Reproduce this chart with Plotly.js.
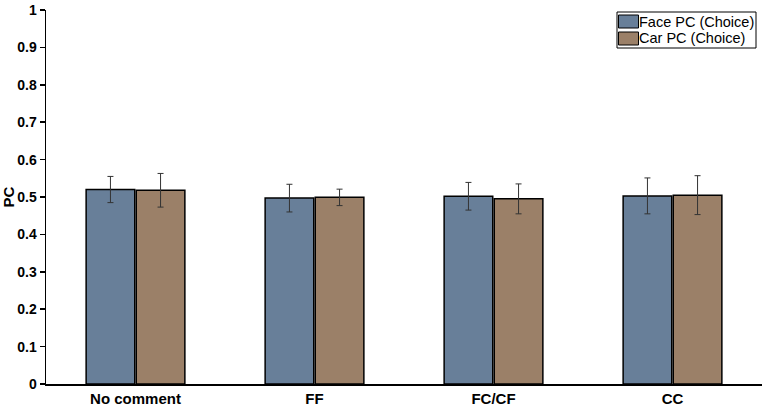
<!DOCTYPE html>
<html><head><meta charset="utf-8">
<script src="https://cdn.plot.ly/plotly-3.0.1.min.js"></script>
<style>html,body{margin:0;padding:0;background:#fff}#chart{width:765px;height:407px}</style>
</head><body><div id="chart"></div>
<script>
var categories = ['No comment', 'FF', 'FC/CF', 'CC'];
var faceValues = [0.520, 0.497, 0.502, 0.503];
var faceErrors = [0.035, 0.037, 0.037, 0.048];
var carValues = [0.518, 0.499, 0.495, 0.505];
var carErrors = [0.045, 0.022, 0.040, 0.052];
var seriesNames = ['Face PC (Choice)', 'Car PC (Choice)'];
var seriesColors = ['#687f99', '#9b8068'];
var yTicks = [0, 0.1, 0.2, 0.3, 0.4, 0.5, 0.6, 0.7, 0.8, 0.9, 1];
var yTickText = ['0', '0.1', '0.2', '0.3', '0.4', '0.5', '0.6', '0.7', '0.8', '0.9', '1'];

var W = 765, H = 407;
var M = {l: 46, r: 3, t: 10, b: 23};
var pw = W - M.l - M.r, ph = H - M.t - M.b;
function px(x) { return (x - M.l) / pw; }
function py(y) { return (H - M.b - y) / ph; }

var errStyle = {type: 'data', visible: true, color: '#333333', thickness: 1, width: 3};
var traces = [
  {type: 'bar', name: seriesNames[0], x: categories, y: faceValues, showlegend: false,
   error_y: Object.assign({array: faceErrors}, errStyle),
   marker: {color: seriesColors[0], line: {color: '#000', width: 1.5}}},
  {type: 'bar', name: seriesNames[1], x: categories, y: carValues, showlegend: false,
   error_y: Object.assign({array: carErrors}, errStyle),
   marker: {color: seriesColors[1], line: {color: '#000', width: 1.5}}}
];
var FAM = 'Liberation Sans, Arial, sans-serif';

// manual legend (box + swatches + texts)
var shapes = [
  {type: 'rect', xref: 'paper', yref: 'paper', x0: px(617), x1: px(756), y0: py(48), y1: py(12),
   line: {color: '#000', width: 1}, fillcolor: '#fff', layer: 'above'}
];
var annotations = [];
seriesNames.forEach(function (nm, i) {
  var yTop = 15 + i * 17, yBot = 28 + i * 17;
  shapes.push({type: 'rect', xref: 'paper', yref: 'paper', x0: px(618.5), x1: px(638.5),
    y0: py(yBot), y1: py(yTop), line: {color: '#000', width: 1}, fillcolor: seriesColors[i], layer: 'above'});
  annotations.push({xref: 'paper', yref: 'paper', x: px(638), y: py((yTop + yBot) / 2),
    xanchor: 'left', yanchor: 'middle', showarrow: false, text: nm, borderpad: 0,
    font: {family: FAM, size: 14.5, color: '#000'}});
});

var layout = {
  width: W, height: H,
  margin: M,
  paper_bgcolor: '#fff', plot_bgcolor: '#fff',
  barmode: 'group', bargap: 0.44, bargroupgap: 0.03,
  showlegend: false,
  shapes: shapes, annotations: annotations,
  xaxis: {showline: true, linecolor: '#000', linewidth: 1.5, ticks: '', showgrid: false,
    tickfont: {family: FAM, size: 15, color: '#000', weight: 'bold'}, zeroline: false, range: [-0.5, 3.5]},
  yaxis: {range: [0, 1], showline: true, linecolor: '#000', linewidth: 1.5,
    ticks: 'outside', ticklen: 5, tickcolor: '#000', tickwidth: 1.5,
    tickvals: yTicks, ticktext: yTickText, showgrid: false, zeroline: false,
    tickfont: {family: FAM, size: 14, color: '#000', weight: 'bold'},
    title: {text: 'PC', font: {family: FAM, size: 15, color: '#000', weight: 'bold'}, standoff: 4}}
};
Plotly.newPlot('chart', traces, layout, {displayModeBar: false, staticPlot: true});
</script></body></html>
